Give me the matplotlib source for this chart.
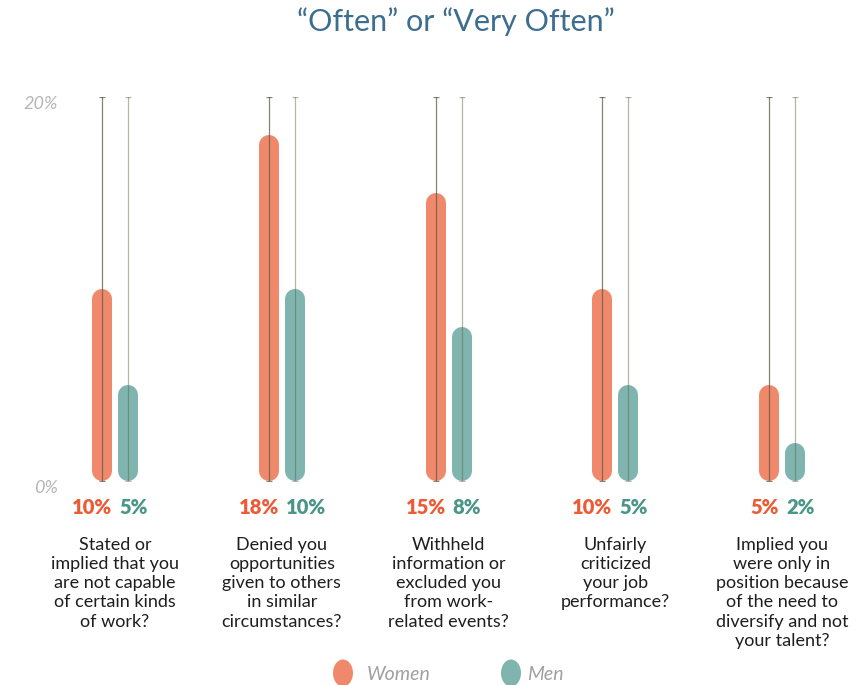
import matplotlib
matplotlib.use("Agg")
import matplotlib.pyplot as plt
from matplotlib.patches import Ellipse
import matplotlib.transforms as mtransforms

categories = [
    "Stated or\nimplied that you\nare not capable\nof certain kinds\nof work?",
    "Denied you\nopportunities\ngiven to others\nin similar\ncircumstances?",
    "Withheld\ninformation or\nexcluded you\nfrom work-\nrelated events?",
    "Unfairly\ncriticized\nyour job\nperformance?",
    "Implied you\nwere only in\nposition because\nof the need to\ndiversify and not\nyour talent?",
]
women = [10, 18, 15, 10, 5]
men = [5, 10, 8, 5, 2]
series_names = ["Women", "Men"]
ytick_vals = [0, 20]
ytick_labels = ["0%", "20%"]
title = "\u201cOften\u201d or \u201cVery Often\u201d"

W_BAR = "#F0896C"
M_BAR = "#7FB5AE"
W_TXT = "#EC5B36"
M_TXT = "#4A9688"
FONT = "Lato"

W, H = 865, 685
fig = plt.figure(figsize=(W / 100, H / 100), dpi=100)
ax = fig.add_axes([0, (H - 481) / H, 1, (481 - 97) / H])
ax.set_xlim(-115 / 166.75, (W - 115) / 166.75)
ax.set_ylim(0, 20)
ax.axis("off")

fig.canvas.draw()
px_per_unit_x = ax.transData.transform((1, 0))[0] - ax.transData.transform((0, 0))[0]
px_per_unit_y = ax.transData.transform((0, 1))[1] - ax.transData.transform((0, 0))[1]
bar_px = 20
r = (bar_px / 2) / px_per_unit_y
off = 13 / px_per_unit_x
lw_pt = bar_px * 72 / 100

for i, (wv, mv) in enumerate(zip(women, men)):
    for x, v, col, la in [(i - off, wv, W_BAR, 0.75), (i + off, mv, M_BAR, 0.45)]:
        ax.plot([x, x], [r, v - r], color=col, lw=lw_pt, solid_capstyle="round", zorder=2)
        ax.plot([x, x], [0, ytick_vals[-1]], color="#5c5a45", lw=0.9, alpha=la, zorder=3)
        ax.plot([x, x], [0, ytick_vals[-1]], ls="none", marker="_", ms=5, mew=0.9,
                color="#5c5a45", alpha=la, zorder=3)
    ax.annotate(f"{wv}%", (i, 0), xytext=(-2, -19), textcoords="offset points",
                ha="right", va="center", color=W_TXT, fontsize=14.5,
                fontfamily=FONT, fontweight="heavy")
    ax.annotate(f"{mv}%", (i, 0), xytext=(3, -19), textcoords="offset points",
                ha="left", va="center", color=M_TXT, fontsize=14.5,
                fontfamily=FONT, fontweight="heavy")
    ax.annotate(categories[i], (i, 0), xytext=(0, -40), textcoords="offset points",
                ha="center", va="top", color="#1e1e1e", fontsize=13,
                fontfamily=FONT, linespacing=1.25)

trans = mtransforms.blended_transform_factory(fig.transFigure, ax.transData)
for v, lab in zip(ytick_vals, ytick_labels):
    ax.annotate(lab, (58 / W, v), xycoords=trans, xytext=(0, -5), textcoords="offset points",
                ha="right", va="center", color="#b5b5b5", fontsize=13,
                fontfamily=FONT, fontstyle="italic")

fig.text(456 / W, 1 - 22 / H, title, ha="center", va="center", color="#3D6E90",
         fontsize=22, fontfamily=FONT)

# legend
for name, col, xc, xt in [(series_names[0], W_BAR, 343, 367), (series_names[1], M_BAR, 511, 527)]:
    e = Ellipse((xc / W, 1 - 673 / H), 20 / W, 27 / H, transform=fig.transFigure,
                facecolor=col, edgecolor="none")
    fig.patches.append(e)
    fig.text(xt / W, 1 - 674 / H, name, ha="left", va="center", color="#a0a0a0",
             fontsize=14, fontfamily=FONT, fontstyle="italic")

fig.savefig("out.png", dpi=100)
